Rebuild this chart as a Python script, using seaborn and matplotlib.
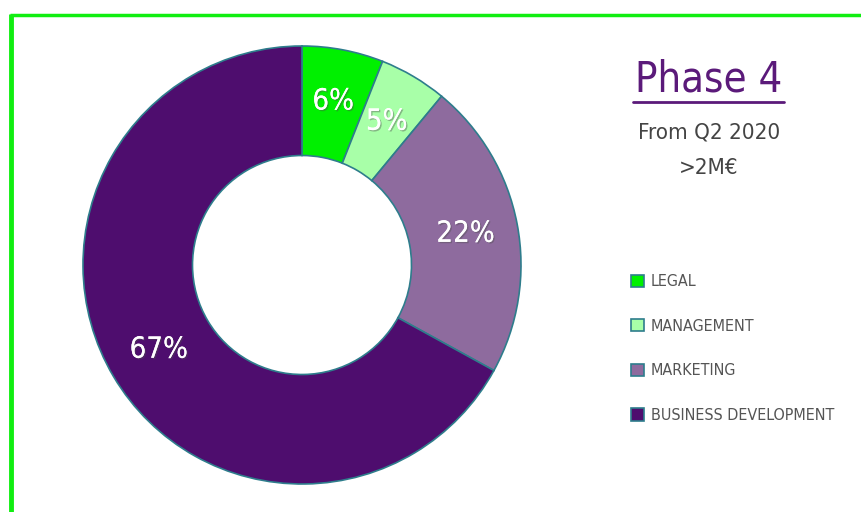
import numpy as np
import pandas as pd
import matplotlib
matplotlib.use("Agg")
import matplotlib.pyplot as plt
import matplotlib.patheffects as pe
from matplotlib.lines import Line2D
import seaborn as sns

# datos del gráfico
categorias = ["LEGAL", "MANAGEMENT", "MARKETING", "BUSINESS DEVELOPMENT"]
porcentajes = [6, 5, 22, 67]
colores = ["#00F000", "#A8FFA8", "#8E6B9E", "#4E0D6E"]
titulo = "Phase 4"
subtitulo = "From Q2 2020\n>2M€"

df = pd.DataFrame({"categoria": categorias, "porcentaje": porcentajes})

sns.set_theme(style="white")
plt.rcParams['font.family'] = ['DejaVu Sans']
plt.rcParams['font.stretch'] = 'condensed'

fig = plt.figure(figsize=(8.62, 5.12), dpi=100)
fig.patch.set_facecolor("white")

# borde verde (arriba e izquierda)
fig.add_artist(Line2D([11.5 / 862, 11.5 / 862], [0, 1 - 14 / 512], color="#11EE11", lw=3.5,
                      solid_capstyle="butt"))
fig.add_artist(Line2D([10 / 862, 1], [1 - 14.5 / 512, 1 - 14.5 / 512], color="#11EE11", lw=2.5,
                      solid_capstyle="butt"))

ax = fig.add_axes([83 / 862, 28 / 512, 438 / 862, 438 / 512])
wedges, textos, autotextos = ax.pie(
    df["porcentaje"],
    colors=colores,
    startangle=90,
    counterclock=False,
    autopct='%1.0f%%',
    pctdistance=0.76,
    wedgeprops=dict(width=0.5, edgecolor="#2E7D8C", linewidth=1.2),
    textprops=dict(color="white", fontsize=21, fontstretch='condensed'),
)
for t in autotextos:
    t.set_path_effects([pe.withSimplePatchShadow(offset=(1, -1), alpha=0.4), pe.Normal()])
ax.set_xlim(-1, 1)
ax.set_ylim(-1, 1)
ax.set_aspect("equal")
ax.axis("off")

# título subrayado
fig.text(709 / 862, 1 - 80 / 512, titulo, ha="center", va="center",
         fontsize=30, color="#5B1A7A")
fig.add_artist(Line2D([633 / 862, 784 / 862], [1 - 102 / 512, 1 - 102 / 512],
                      color="#5B1A7A", lw=2))
fig.text(709 / 862, 1 - 150 / 512, subtitulo, ha="center", va="center",
         fontsize=16, color="#444444", linespacing=1.95)

leg = fig.legend(wedges, df["categoria"], loc="upper left",
                 bbox_to_anchor=(617 / 862, 1 - 260 / 512), frameon=False,
                 fontsize=11.5, handlelength=0.8, handleheight=0.8,
                 handletextpad=0.4, labelspacing=1.85)
for t in leg.get_texts():
    t.set_color("#555555")

plt.savefig("out.png", dpi=100)
